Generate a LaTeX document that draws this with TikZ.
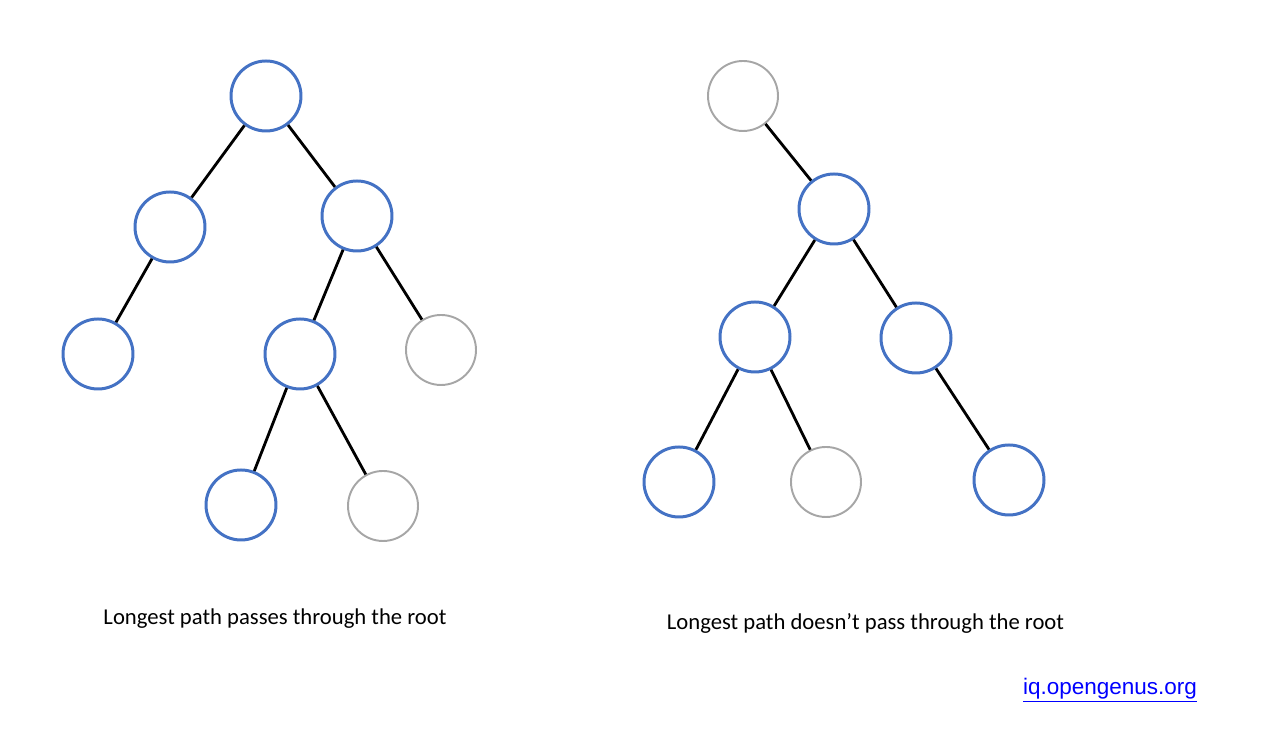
\documentclass[tikz,border=0pt]{standalone}
\usepackage{fontspec}
\setmainfont{Carlito}
\newfontfamily\linkfont{Liberation Sans}
\usepackage{tikz}
\usetikzlibrary{positioning,calc}

\definecolor{pathblue}{HTML}{4472C4}
\definecolor{offgray}{HTML}{A6A6A6}

\begin{document}
\begin{tikzpicture}[
        onpath/.style={
            circle,
            draw=pathblue,
            line width=1.7pt,
            minimum size=1.40cm,
            inner sep=0pt
        },
        offpath/.style={
            circle,
            draw=offgray,
            line width=1.1pt,
            minimum size=1.40cm,
            inner sep=0pt
        },
        edge/.style={line width=1.6pt, black},
        caption/.style={font=\fontsize{12.9}{15}\selectfont, inner sep=0pt}
    ]
        \useasboundingbox (0,0) rectangle (25.56,15.02);

        % left tree
        \node[onpath] (lroot) at (5.32,13.10) {};
        \node[onpath] (la) at (3.40,10.48) {};
        \node[onpath] (lb) at (7.14,10.70) {};
        \node[onpath] (lc) at (1.96,7.94) {};
        \node[onpath] (ld) at (6.00,7.94) {};
        \node[offpath] (le) at (8.82,8.02) {};
        \node[onpath] (lf) at (4.82,4.92) {};
        \node[offpath] (lg) at (7.66,4.90) {};

        \draw[edge] (lroot) -- (la);
        \draw[edge] (lroot) -- (lb);
        \draw[edge] (la) -- (lc);
        \draw[edge] (lb) -- (ld);
        \draw[edge] (lb) -- (le);
        \draw[edge] (ld) -- (lf);
        \draw[edge] (ld) -- (lg);

        % right tree
        \node[offpath] (rroot) at (14.86,13.10) {};
        \node[onpath] (ra) at (16.68,10.84) {};
        \node[onpath] (rb) at (15.10,8.28) {};
        \node[onpath] (rc) at (18.32,8.26) {};
        \node[onpath] (rd) at (13.58,5.38) {};
        \node[offpath] (re) at (16.52,5.38) {};
        \node[onpath] (rf) at (20.18,5.42) {};

        \draw[edge] (rroot) -- (ra);
        \draw[edge] (ra) -- (rb);
        \draw[edge] (ra) -- (rc);
        \draw[edge] (rb) -- (rd);
        \draw[edge] (rb) -- (re);
        \draw[edge] (rc) -- (rf);

        % captions
        \node[caption] (lcap) at (5.50,2.64) {Longest path passes through the root};
        \node[caption] (rcap) at (17.31,2.56) {Longest path doesn’t pass through the root};
        \node[inner sep=0pt, text=blue, font=\linkfont\fontsize{12.8}{15}\selectfont] (link) at (22.20,1.22) {\underline{iq.opengenus.org}};
    \end{tikzpicture}
\end{document}
